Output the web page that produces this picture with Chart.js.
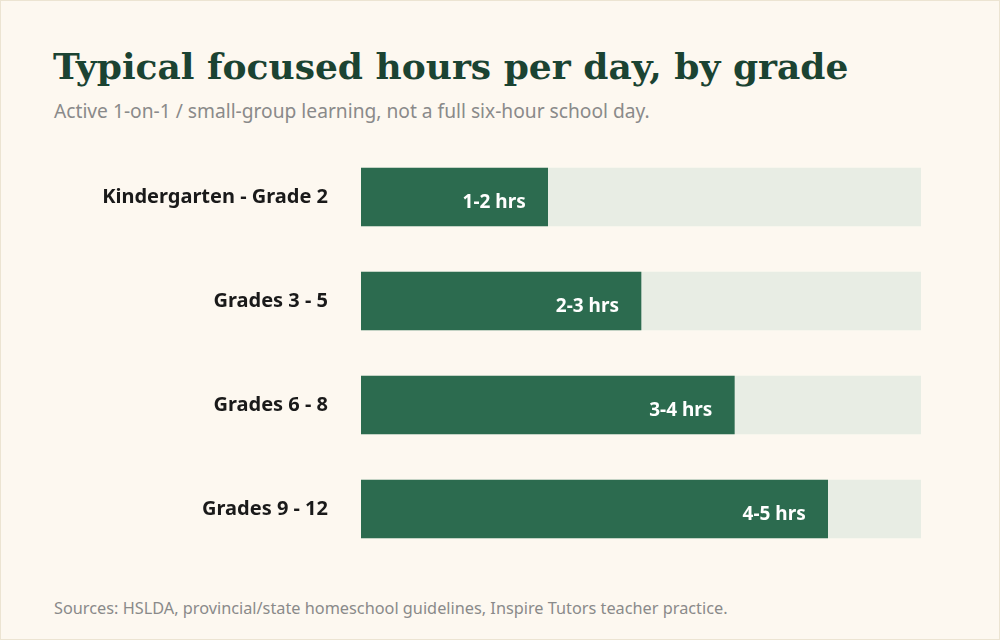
<!DOCTYPE html>
<html lang="en">
<head>
  <meta charset="UTF-8" />
  <title>Typical focused hours per day, by grade</title>
  <style>
    * { box-sizing: border-box; }

    body {
      margin: 0;
      background-color: #fdf8f0;
    }

    .frame {
      position: relative;
      width: 1000px;
      height: 640px;
      border: 1px solid #ece4d2;
      background-color: #fdf8f0;
      overflow: hidden;
    }

    h1 {
      position: absolute;
      left: 52px;
      top: 41px;
      margin: 0;
      font-family: 'DejaVu Serif', serif;
      font-weight: 700;
      font-size: 36px;
      line-height: 48px;
      color: #1b4332;
      white-space: nowrap;
    }

    .subtitle {
      position: absolute;
      left: 53px;
      top: 96px;
      margin: 0;
      font-family: 'Noto Sans', sans-serif;
      font-size: 19.2px;
      color: #8a8a8a;
      white-space: nowrap;
    }

    .sources {
      position: absolute;
      left: 53px;
      top: 596px;
      margin: 0;
      font-family: 'Noto Sans', sans-serif;
      font-size: 16.3px;
      color: #8a8a8a;
      white-space: nowrap;
    }

    #chart-container {
      position: absolute;
      left: -1px;
      top: 144px;
      width: 1000px;
      height: 416px;
    }

    canvas { display: block; }
  </style>
</head>
<body>

<div class="frame">
  <h1>Typical focused hours per day, by grade</h1>
  <p class="subtitle">Active 1-on-1 / small-group learning, not a full six-hour school day.</p>

  <div id="chart-container">
    <canvas id="hoursChart" width="1000" height="416" aria-label="Bar chart of focused hours per day by grade" role="img"></canvas>
  </div>

  <p class="sources">Sources: HSLDA, provincial/state homeschool guidelines, Inspire Tutors teacher practice.</p>
</div>

<script src="https://cdn.jsdelivr.net/npm/chart.js"></script>

<script>
const grades = ['Kindergarten - Grade 2', 'Grades 3 - 5', 'Grades 6 - 8', 'Grades 9 - 12'];
const upperHours = [2, 3, 4, 5];
const rangeLabels = ['1-2 hrs', '2-3 hrs', '3-4 hrs', '4-5 hrs'];
const fullDay = [6, 6, 6, 6];

// writes the range text inside the end of each green bar
const barLabels = {
  id: 'barLabels',
  afterDatasetsDraw(chart) {
    const ctx = chart.ctx;
    const meta = chart.getDatasetMeta(0);
    ctx.save();
    ctx.font = 'bold 19px "Noto Sans", sans-serif';
    ctx.fillStyle = '#ffffff';
    ctx.textAlign = 'right';
    ctx.textBaseline = 'middle';
    meta.data.forEach((bar, i) => {
      ctx.fillText(rangeLabels[i], bar.x - 22, bar.y + 6);
    });
    ctx.restore();
  }
};

const ctx = document.getElementById('hoursChart').getContext('2d');

new Chart(ctx, {
  type: 'bar',
  data: {
    labels: grades,
    datasets: [
      {
        label: 'Focused hours',
        data: upperHours,
        backgroundColor: '#2c6b4f',
        borderWidth: 0,
        barThickness: 58,
        grouped: false
      },
      {
        label: 'Six-hour day',
        data: fullDay,
        backgroundColor: '#e8ede4',
        borderWidth: 0,
        barThickness: 58,
        grouped: false
      }
    ]
  },
  options: {
    indexAxis: 'y',
    responsive: false,
    animation: false,
    layout: {
      padding: { left: 0, right: 79, top: 0, bottom: 0 }
    },
    scales: {
      x: {
        display: false,
        min: 0,
        max: 6
      },
      y: {
        grid: { display: false, drawTicks: false },
        border: { display: false },
        ticks: {
          color: '#1a1a1a',
          padding: 33,
          font: { family: '"Noto Sans", sans-serif', size: 20, weight: 'bold' }
        },
        afterFit(scale) {
          scale.width = 361;
          // tick padding would otherwise shrink the band area top and bottom
          scale.paddingTop = 0;
          scale.paddingBottom = 0;
        }
      }
    },
    plugins: {
      legend: { display: false },
      tooltip: { enabled: false }
    }
  },
  plugins: [barLabels]
});
</script>

</body>
</html>
